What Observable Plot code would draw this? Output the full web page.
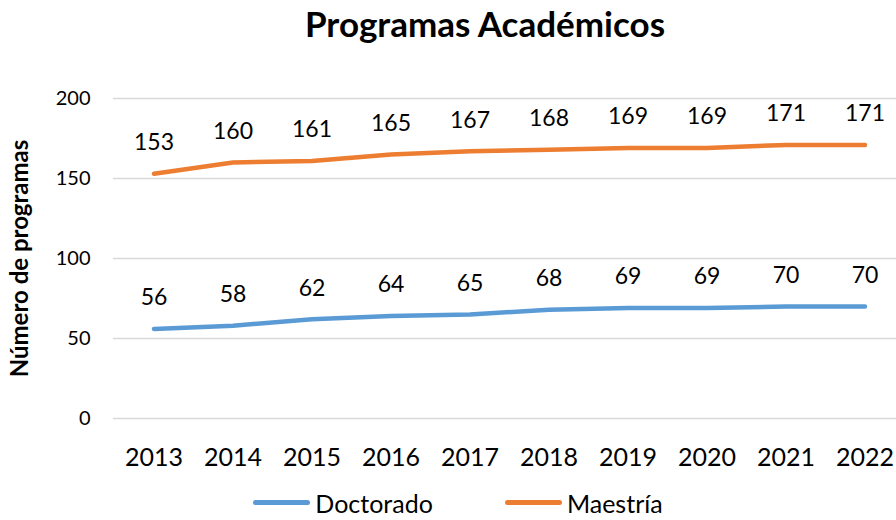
<!DOCTYPE html>
<html>
<head>
<meta charset="utf-8">
<script src="https://cdn.jsdelivr.net/npm/d3@7"></script>
<script src="https://cdn.jsdelivr.net/npm/@observablehq/plot@0.6"></script>
<style>
  body { margin: 0; background: #fff; font-family: Lato, "Open Sans", sans-serif; }
  #wrap { width: 896px; height: 520px; position: relative; overflow: hidden; }
  #title { height: 60px; width: 896px; text-align: center; font-weight: bold; font-size: 35px; line-height: 46px; color: #000; padding-left: 74px; box-sizing: border-box; }
  #legend { display: flex; justify-content: center; align-items: center; gap: 0; height: 35px; font-size: 25px; color: #000; padding-left: 20px; }
  .item { display: flex; align-items: center; margin: 0 36px; }
  .sw { width: 57px; height: 5px; border-radius: 3px; margin-right: 5px; }
  svg text { font-family: Lato, "Open Sans", sans-serif; }
</style>
</head>
<body>
<div id="wrap">
  <div id="title">Programas Académicos</div>
  <div id="chart"></div>
  <div id="legend"></div>
</div>
<script>
const years = [2013, 2014, 2015, 2016, 2017, 2018, 2019, 2020, 2021, 2022];
const doctorado = [56, 58, 62, 64, 65, 68, 69, 69, 70, 70];
const maestria = [153, 160, 161, 165, 167, 168, 169, 169, 171, 171];
const seriesNames = ["Doctorado", "Maestría"];
const seriesColors = ["#5B9BD5", "#ED7D31"];
const yTicks = [0, 50, 100, 150, 200];

const data = [];
years.forEach((y, i) => {
  data.push({year: String(y), value: doctorado[i], series: seriesNames[0]});
  data.push({year: String(y), value: maestria[i], series: seriesNames[1]});
});

const chart = Plot.plot({
  width: 896,
  height: 425,
  marginLeft: 113,
  marginRight: 0,
  marginTop: 38,
  marginBottom: 67,
  x: {type: "band", domain: years.map(String), range: [113, 905], padding: 0, label: null, tickSize: 0},
  y: {domain: [0, 200], ticks: yTicks, label: null, tickSize: 0},
  color: {domain: seriesNames, range: seriesColors},
  style: {fontSize: "19px", color: "#000", background: "transparent"},
  marks: [
    Plot.ruleY(yTicks, {stroke: "#d9d9d9", strokeWidth: 1.5}),
    Plot.axisY({ticks: yTicks, tickSize: 0, tickPadding: 23, fontSize: 20, label: null}),
    Plot.axisX({tickSize: 0, tickPadding: 30, fontSize: 25, label: null}),
    Plot.lineY(data, {x: "year", y: "value", z: "series", stroke: "series", strokeWidth: 4.5, strokeLinecap: "round"}),
    Plot.text(data, {x: "year", y: "value", text: d => String(d.value), dy: -31, fontSize: 23, fill: "#000"}),
    Plot.text(["Número de programas"], {frameAnchor: "left", textAnchor: "middle", dx: -93, rotate: -90, fontWeight: "bold", fontSize: 24, fill: "#000"})
  ]
});
document.getElementById("chart").appendChild(chart);

const legend = document.getElementById("legend");
seriesNames.forEach((n, i) => {
  const it = document.createElement("div");
  it.className = "item";
  const sw = document.createElement("div");
  sw.className = "sw";
  sw.style.background = seriesColors[i];
  const t = document.createElement("span");
  t.textContent = n;
  it.appendChild(sw); it.appendChild(t);
  legend.appendChild(it);
});
</script>
</body>
</html>
